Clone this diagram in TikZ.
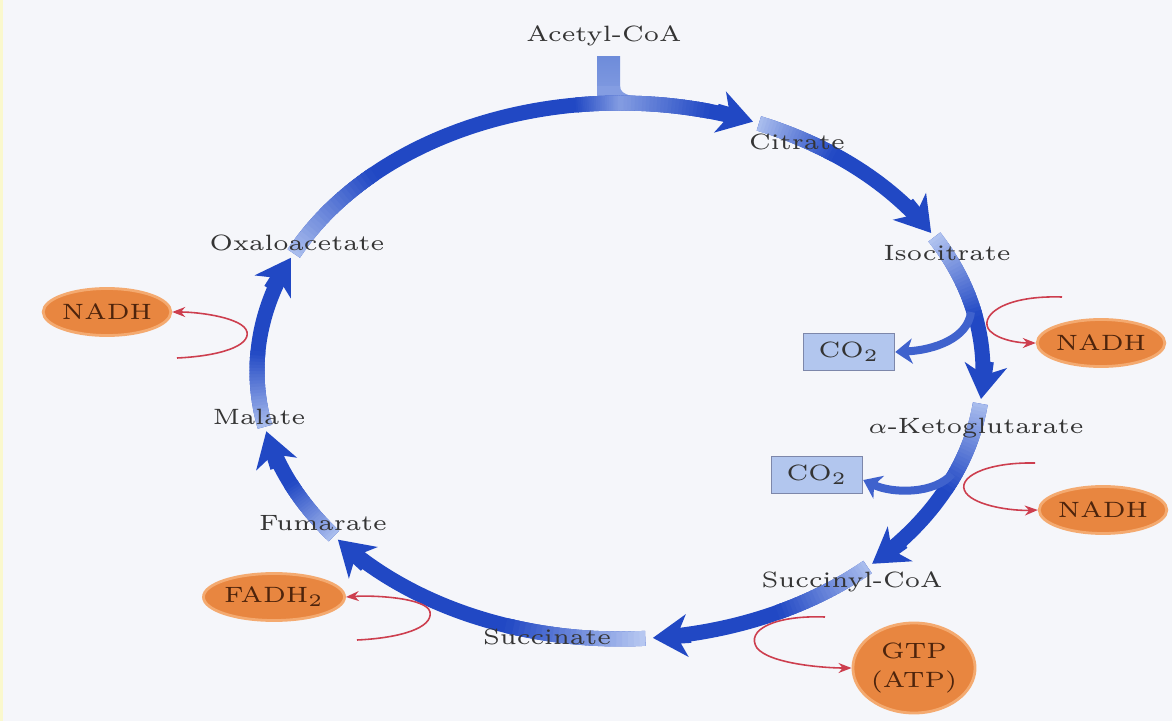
\documentclass[tikz,border=0pt]{standalone}
\usepackage{graphicx}
\usetikzlibrary{arrows.meta,shapes.geometric}
\definecolor{dk}{RGB}{33,72,196}
\definecolor{lt}{RGB}{185,202,242}
\definecolor{bg}{RGB}{245,246,250}
\definecolor{txt}{RGB}{52,52,52}
\definecolor{org}{RGB}{232,134,64}
\definecolor{orgb}{RGB}{244,170,112}
\definecolor{orgtxt}{RGB}{78,36,12}
\definecolor{rd}{RGB}{205,62,78}
\definecolor{cobox}{RGB}{178,198,238}
\definecolor{coline}{RGB}{125,135,170}
\definecolor{stemtop}{RGB}{110,140,218}
\definecolor{edgey}{RGB}{250,248,205}
\colorlet{bump}{dk!35!lt}
\newcommand\wide[1]{\scalebox{1.13}[1]{#1}}
\newcommand\cycramp[4]{%
  \foreach \k in {0,...,23}{%
    \pgfmathsetmacro\ta{(#1)+((#2)-(#1))*\k/24}%
    \pgfmathsetmacro\tb{(#1)+((#2)-(#1))*(\k+1.4)/24}%
    \pgfmathtruncatemacro\pp{(#3)+((#4)-(#3))*(\k+0.5)/24}%
    \pgfmathsetmacro\xa{620+363*cos(\ta)}%
    \pgfmathsetmacro\ya{371-268*sin(\ta)}%
    \pgfmathsetmacro\xb{620+363*cos(\tb)}%
    \pgfmathsetmacro\yb{371-268*sin(\tb)}%
    \draw[cyc, dk!\pp!lt] (\xa,\ya) -- (\xb,\yb);%
  }}
\newcommand\cycseg[4]{%
  \draw[cyc, dk] plot[domain=0:1, samples=60] ({620+363*cos((#1)+((#2)+3-(#1))*\x)},{371-268*sin((#1)+((#2)+3-(#1))*\x)});
  \cycramp{#1}{#3}{#4}{100}}
\newcommand\cychead[1]{%
  \pgfmathsetmacro\xb{620+363*cos(#1)}%
  \pgfmathsetmacro\yb{371-268*sin(#1)}%
  \pgfmathsetmacro\dx{3.63*sin(#1)}%
  \pgfmathsetmacro\dy{2.68*cos(#1)}%
  \pgfmathsetmacro\nn{sqrt(\dx*\dx+\dy*\dy)}%
  \pgfmathsetmacro\xa{\xb-38*\dx/\nn}%
  \pgfmathsetmacro\ya{\yb-38*\dy/\nn}%
  \draw[head] (\xa,\ya) -- (\xb,\yb);}
\begin{document}
\begin{tikzpicture}[x=0.01cm,y=-0.01cm,
  cyc/.style={line width=0.15cm},
  lbl/.style={font=\fontsize{6.3}{7.5}\selectfont, text=txt, inner sep=0pt},
  prod/.style={ellipse, fill=org, draw=orgb, line width=0.8pt, inner sep=0pt,
    font=\fontsize{6.3}{7.5}\selectfont, text=orgtxt, minimum width=1.23cm, minimum height=0.47cm},
  cobx/.style={rectangle, fill=cobox, draw=coline, line width=0.4pt, minimum width=0.91cm,
    minimum height=0.37cm, inner sep=0pt, font=\fontsize{6.3}{7.5}\selectfont, text=txt},
  rarr/.style={draw=rd, line width=0.45pt, -{Stealth[length=0.13cm,width=0.1cm]}},
  brarr/.style={line width=0.08cm, draw=dk!80!lt, -{Stealth[length=0.17cm,width=0.25cm,inset=0.05cm]}},
  head/.style={cyc, draw=dk, -{Stealth[length=0.34cm,width=0.42cm,inset=0.1cm]}}
]
\useasboundingbox (0,0) rectangle (1172,721);
\fill[bg] (0,0) rectangle (1172,721);
\fill[edgey] (0,0) rectangle (3,721);

% acetyl-CoA inflow (drawn first, the cycle covers its foot)
\shade[top color=stemtop, bottom color=bump] (597,56) rectangle (620,100);
\fill[bump] (597,86) -- (620,86) .. controls (620,96) and (634,98) .. (668,98) -- (668,104) -- (597,104) -- cycle;

% cycle segments
\cycseg{154}{68.5}{133}{10}
\cycramp{97}{90}{100}{35}
\cycramp{90}{76}{35}{100}
\cycseg{67.5}{31}{54}{10}
\cycseg{30}{-6}{12}{5}
\cycseg{-7}{-46}{-26}{10}
\cycseg{-47}{-84.8}{-64}{10}
\cycseg{-86}{-141}{-108}{0}
\cycseg{-142}{-167}{-155}{10}
\cycseg{192}{155}{176}{10}

% CO2 boxes and branches
\node[cobx] (co2a) at (849,352) {\wide{CO$_2$}};
\node[cobx] (co2b) at (817,475) {\wide{CO$_2$}};
\coordinate (b1) at (971,312);
\coordinate (b2) at (952,474);
\draw[brarr] (b1) .. controls (968,338) and (935,350) .. (co2a.east);
\draw[brarr] (b2) .. controls (935,494) and (893,494) .. ([yshift=-0.05cm]co2b.east);

% arrowheads
\cychead{68.5}
\cychead{31}
\cychead{-6}
\cychead{-46}
\cychead{-84.8}
\cychead{-141}
\cychead{-167}
\cychead{155}

% labels
\node[lbl] (acetyl) at (604,36) {\wide{Acetyl-CoA}};
\node[lbl] (citrate) at (797,142) {\wide{Citrate}};
\node[lbl] (isocit) at (947,253) {\wide{Isocitrate}};
\node[lbl] (akg) at (976,428) {\wide{$\alpha$-Ketoglutarate}};
\node[lbl] (succoa) at (852,582) {\wide{Succinyl-CoA}};
\node[lbl] (succ) at (547,637) {\wide{Succinate}};
\node[lbl] (fum) at (323,523) {\wide{Fumarate}};
\node[lbl] (mal) at (259,417) {\wide{Malate}};
\node[lbl] (oaa) at (297,243) {\wide{Oxaloacetate}};

% products
\node[prod] (nadh1) at (1101,343) {\wide{NADH}};
\node[prod] (nadh2) at (1103,510) {\wide{NADH}};
\node[prod, minimum width=1.15cm, minimum height=0.9cm, align=center] (gtp) at (914,668) {\wide{GTP}\\[1pt]\wide{(ATP)}};
\node[prod] (fadh) at (274,597) {\wide{FADH$_2$}};
\node[prod] (nadh3) at (107,312) {\wide{NADH}};

% red product arrows
\coordinate (r1) at (1062,297);
\coordinate (r2) at (1035,463);
\coordinate (r3) at (825,617);
\coordinate (r4) at (357,640);
\coordinate (r5) at (177,358);
\draw[rarr] (r1) .. controls (1000,295) and (978,318) .. (990,331) .. controls (1000,341) and (1022,343) .. (nadh1.west);
\draw[rarr] (r2) .. controls (985,462) and (955,478) .. (966,493) .. controls (976,506) and (1012,511) .. (nadh2.west);
\draw[rarr] (r3) .. controls (775,615) and (745,630) .. (757,648) .. controls (770,664) and (825,668) .. (gtp.west);
\draw[rarr] (r4) .. controls (400,638) and (433,628) .. (430,612) .. controls (427,598) and (375,595) .. (fadh.east);
\draw[rarr] (r5) .. controls (220,356) and (250,346) .. (247,332) .. controls (244,318) and (200,312) .. (nadh3.east);
\end{tikzpicture}
\end{document}
